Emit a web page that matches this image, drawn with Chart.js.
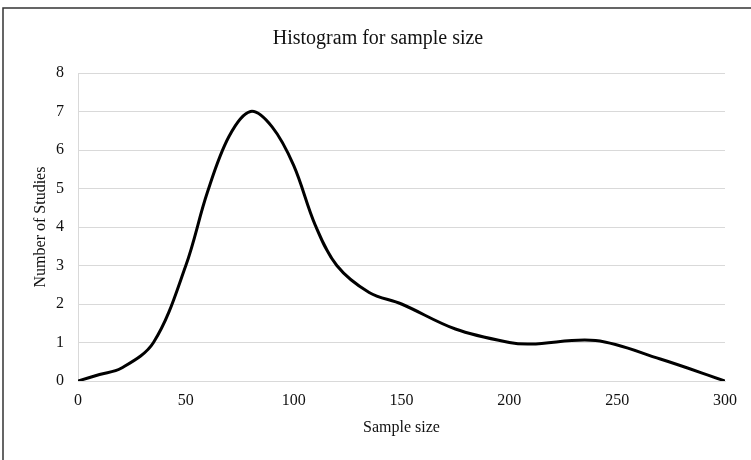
<!DOCTYPE html>
<html>
<head>
<meta charset="utf-8">
<script src="https://cdn.jsdelivr.net/npm/chart.js@4/dist/chart.umd.min.js"></script>
<style>
  html, body { margin: 0; padding: 0; background: #fff; }
  #wrap { width: 751px; height: 460px; }
</style>
</head>
<body>
<div id="wrap"><canvas id="chart" width="751" height="460"></canvas></div>
<script>
// values
const sampleSize = [0, 10, 20, 35, 50, 60, 70, 80, 90, 100, 110, 120, 135, 150, 175, 200, 210, 240, 270, 300];
const studies = [0, 0.17, 0.33, 1, 3, 4.9, 6.35, 7, 6.6, 5.6, 4.05, 3, 2.3, 2.0, 1.35, 1.0, 0.96, 1.05, 0.57, 0];
const xTicks = [0, 50, 100, 150, 200, 250, 300];
const yTicks = [0, 1, 2, 3, 4, 5, 6, 7, 8];

const points = sampleSize.map((x, i) => ({ x: x, y: studies[i] }));

// outer frame like the original export
const framePlugin = {
  id: "frame",
  beforeDraw(chart) {
    const c = chart.ctx;
    c.save();
    c.fillStyle = "#fff";
    c.fillRect(0, 0, chart.width, chart.height);
    c.strokeStyle = "#333";
    c.lineWidth = 1.5;
    c.strokeRect(3, 8, chart.width + 10, chart.height + 10);
    c.restore();
  }
};

const ctx = document.getElementById("chart").getContext("2d");
new Chart(ctx, {
  type: "scatter",
  data: {
    datasets: [{
      data: points,
      showLine: true,
      borderColor: "#000",
      borderWidth: 3,
      pointRadius: 0,
      tension: 0.35,
      fill: false
    }]
  },
  options: {
    responsive: false,
    animation: false,
    layout: { padding: { left: 31, right: 26, top: 27, bottom: 23 } },
    plugins: {
      legend: { display: false },
      tooltip: { enabled: false },
      title: {
        display: true,
        text: "Histogram for sample size",
        color: "#111",
        font: { family: "Liberation Serif", size: 20, weight: "normal" },
        padding: { top: 0, bottom: 22 }
      }
    },
    scales: {
      x: {
        type: "linear",
        min: 0, max: 300,
        afterBuildTicks(axis) { axis.ticks = xTicks.map(v => ({ value: v })); },
        afterFit(axis) { axis.height = 56; },
        grid: { display: false, drawTicks: false },
        border: { display: true, color: "#d9d9d9", width: 1 },
        ticks: { color: "#111", padding: 10, maxRotation: 0, font: { family: "Liberation Serif", size: 16 } },
        title: { display: true, text: "Sample size", color: "#111", padding: { top: 4, bottom: 0 }, font: { family: "Liberation Serif", size: 16 } }
      },
      y: {
        min: 0, max: 8,
        afterBuildTicks(axis) { axis.ticks = yTicks.map(v => ({ value: v })); },
        afterFit(axis) { axis.width = 47; },
        grid: { color: "#d9d9d9", lineWidth: 1, drawTicks: false },
        border: { display: true, color: "#d9d9d9", width: 1 },
        ticks: { color: "#111", padding: 14, font: { family: "Liberation Serif", size: 16 } },
        title: { display: true, text: "Number of Studies", color: "#111", padding: { top: 0, bottom: 4 }, font: { family: "Liberation Serif", size: 16 } }
      }
    }
  },
  plugins: [framePlugin]
});
</script>
</body>
</html>
